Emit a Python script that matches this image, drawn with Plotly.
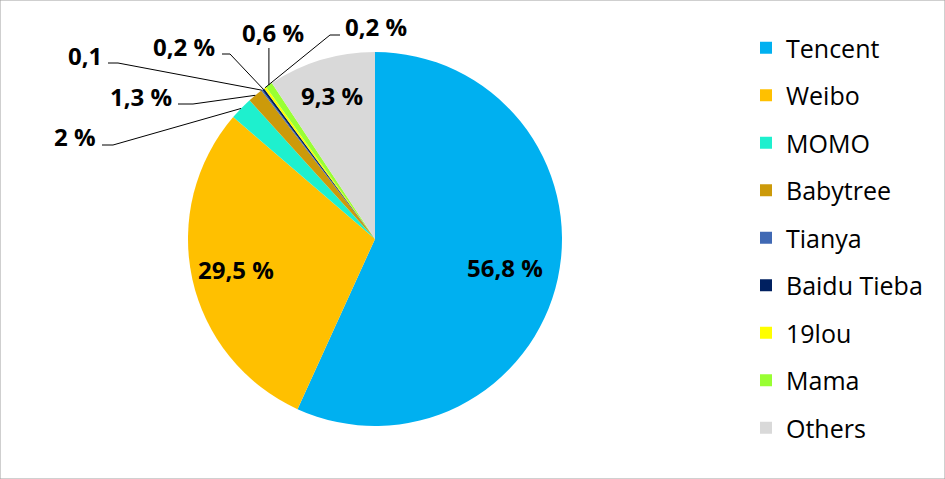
import math
import plotly.graph_objects as go

categories = ["Tencent", "Weibo", "MOMO", "Babytree", "Tianya", "Baidu Tieba", "19lou", "Mama", "Others"]
values = [56.8, 29.5, 2.0, 1.3, 0.1, 0.2, 0.2, 0.6, 9.3]
label_texts = ["56,8 %", "29,5 %", "2 %", "1,3 %", "0,1", "0,2 %", "0,2 %", "0,6 %", "9,3 %"]
colors = ["#00B0F0", "#FFC000", "#1EF0CE", "#CC9A0A", "#4069B4", "#002060", "#FFFF00", "#99FF33", "#D9D9D9"]

W, H = 945, 479
# pie geometry in pixels
px0, px1, py0, py1 = 188, 562, 52, 426
cx, cy = (px0 + px1) / 2, (py0 + py1) / 2
R = (px1 - px0) / 2

# label placement (pixel): inside labels use radius fraction of the slice's mid angle
inside = {0: 0.71, 1: 0.76, 8: 0.80}
# outside: index -> (text x, xanchor, text center y, elbow start x, elbow end x, elbow y)
outside = {
    2: (98, "right", 137, 102, 113, 145),
    3: (174, "right", 97, 178, 193, 104),
    4: (104, "right", 56, 108, 118, 63),
    5: (217, "right", 46, 222, 230, 54),
    6: (343, "left", 26, 340, 330, 35),
    7: (273, "center", 32, None, None, 48),
}

def to_paper(x, y):
    return x / W, 1 - y / H

LABEL_FONT = dict(family="Open Sans", size=24, color="black", weight="bold")

fig = go.Figure()
fig.add_trace(go.Pie(
    labels=categories, values=values, sort=False, direction="clockwise", rotation=0,
    marker=dict(colors=colors, line=dict(width=0)), textinfo="none", hoverinfo="label+percent",
    showlegend=False,
    domain=dict(x=[px0 / W, px1 / W], y=[1 - py1 / H, 1 - py0 / H]),
))

total = sum(values)
cum = 0.0
annotations = []
shapes = []
for i, v in enumerate(values):
    mid = (cum + v / 2) / total * 2 * math.pi
    cum += v
    if i in inside:
        r = R * inside[i]
        x, y = cx + r * math.sin(mid), cy - r * math.cos(mid)
        xp, yp = to_paper(x, y)
        annotations.append(dict(x=xp, y=yp, xref="paper", yref="paper", text=label_texts[i],
                                xanchor="center", yanchor="middle",
                                showarrow=False, font=LABEL_FONT))
    else:
        tx, xa, ty, ex0, ex1, ey = outside[i]
        ex, ey2 = cx + R * math.sin(mid), cy - R * math.cos(mid)
        xp, yp = to_paper(tx, ty)
        annotations.append(dict(x=xp, y=yp, xref="paper", yref="paper", text=label_texts[i],
                                xanchor=xa, yanchor="middle",
                                showarrow=False, font=LABEL_FONT))
        if ex0 is None:
            pts = [(ex, ey), (ex, ey2)]
        else:
            pts = [(ex0, ey), (ex1, ey), (ex, ey2)]
        path = ""
        for k, (a, b) in enumerate(pts):
            pa, pb = to_paper(a, b)
            path += ("M" if k == 0 else "L") + f"{pa},{pb} "
        shapes.append(dict(type="path", path=path, xref="paper", yref="paper",
                           line=dict(color="black", width=1)))

# legend via marker-only traces so item spacing can be controlled
for i, (c, col) in enumerate(zip(categories, colors)):
    fig.add_trace(go.Scatter(x=[None], y=[None], mode="markers", name=c, legendgroup=f"g{i}",
                             marker=dict(symbol="square", size=13, color=col),
                             showlegend=True, hoverinfo="skip"))

shapes.append(dict(type="rect", xref="paper", yref="paper", x0=0, y0=0, x1=1, y1=1,
                   line=dict(color="#A0A0A0", width=1)))

fig.update_layout(
    width=W, height=H, margin=dict(l=0, r=0, t=0, b=0),
    paper_bgcolor="white", plot_bgcolor="white",
    xaxis=dict(visible=False), yaxis=dict(visible=False),
    legend=dict(x=746 / W, y=1 - 25 / H, xanchor="left", yanchor="top",
                font=dict(family="Open Sans", size=25, color="black"),
                tracegroupgap=12, itemsizing="constant", bgcolor="rgba(0,0,0,0)"),
    annotations=annotations, shapes=shapes,
)

fig.write_html("out.html", config={"displayModeBar": False},
               post_script="document.body.style.margin='0';")
